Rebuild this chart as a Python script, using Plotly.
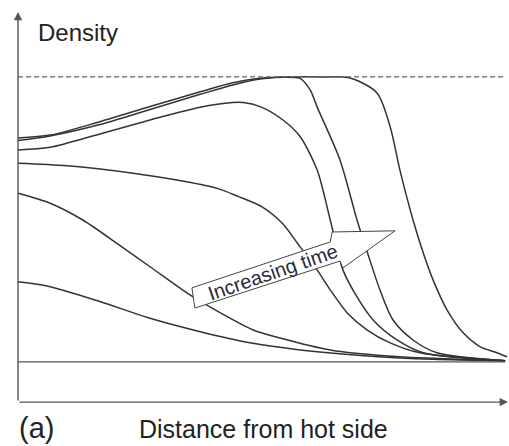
import plotly.graph_objects as go

# distance from hot side (0 = hot side, 1 = right end of the profiles)
# density normalised so that 1 = saturation level (dashed line)
dist_1 = [0.0, 0.066, 0.168, 0.271, 0.374, 0.476, 0.579, 0.717, 0.852, 1.0]
dens_1 = [0.281, 0.264, 0.212, 0.153, 0.106, 0.067, 0.042, 0.021, 0.009, 0.004]

dist_2 = [0.0, 0.066, 0.133, 0.203, 0.271, 0.353, 0.380, 0.483, 0.538, 0.641, 0.784, 1.0]
dens_2 = [0.592, 0.557, 0.498, 0.416, 0.334, 0.235, 0.207, 0.112, 0.084, 0.042, 0.018, 0.004]

dist_3 = [0.0, 0.101, 0.236, 0.343, 0.409, 0.450, 0.501, 0.544, 0.573, 0.614, 0.641,
          0.676, 0.717, 0.764, 0.825, 1.0]
dens_3 = [0.697, 0.688, 0.662, 0.633, 0.609, 0.582, 0.544, 0.484, 0.418, 0.323, 0.253,
          0.172, 0.112, 0.067, 0.032, 0.004]

dist_4 = [0.0, 0.066, 0.168, 0.271, 0.374, 0.441, 0.462, 0.497, 0.544, 0.579, 0.614,
          0.641, 0.667, 0.696, 0.729, 0.778, 0.832, 1.0]
dens_4 = [0.744, 0.753, 0.800, 0.849, 0.894, 0.910, 0.910, 0.896, 0.849, 0.791, 0.674,
          0.498, 0.323, 0.228, 0.147, 0.077, 0.032, 0.004]

dist_5 = [0.0, 0.066, 0.168, 0.271, 0.374, 0.441, 0.497, 0.544, 0.565, 0.579, 0.600,
          0.614, 0.661, 0.696, 0.719, 0.743, 0.770, 0.811, 0.860, 1.0]
dens_5 = [0.786, 0.796, 0.843, 0.896, 0.948, 0.980, 0.995, 1.000, 0.998, 0.995, 0.954,
          0.895, 0.709, 0.498, 0.375, 0.253, 0.147, 0.077, 0.032, 0.004]

dist_6 = [0.0, 0.066, 0.168, 0.271, 0.374, 0.441, 0.497, 0.544, 0.620, 0.682, 0.737,
          0.764, 0.784, 0.811, 0.832, 0.852, 0.881, 0.914, 0.949, 0.979, 1.004]
dens_6 = [0.777, 0.793, 0.833, 0.886, 0.939, 0.972, 0.993, 0.999, 1.000, 0.996, 0.944,
          0.825, 0.674, 0.498, 0.382, 0.288, 0.182, 0.102, 0.053, 0.035, 0.018]

profiles = [(dist_1, dens_1), (dist_2, dens_2), (dist_3, dens_3),
            (dist_4, dens_4), (dist_5, dens_5), (dist_6, dens_6)]

saturation = 1.0
initial = 0.0

FONT = "Arial, Liberation Sans, sans-serif"
LINE = "#333333"
AXIS = "#555555"

fig = go.Figure()

for x, y in profiles:
    fig.add_trace(go.Scatter(
        x=x, y=y, mode="lines",
        line=dict(color=LINE, width=1.5, shape="spline", smoothing=0.8),
        hoverinfo="skip", showlegend=False
    ))

# saturation level and initial level
fig.add_shape(type="line", x0=0, x1=1.0, y0=saturation, y1=saturation,
              line=dict(color="#666666", width=1.3, dash="5px,3px"))
fig.add_shape(type="line", x0=0, x1=1.0, y0=initial, y1=initial,
              line=dict(color=AXIS, width=1.3))

# hollow "increasing time" arrow
fig.add_shape(
    type="path",
    path="M 0.357,0.260 L 0.641,0.421 L 0.645,0.456 L 0.774,0.460 "
         "L 0.667,0.330 L 0.661,0.354 L 0.363,0.189 Z",
    fillcolor="white", line=dict(color="#444444", width=1), layer="above"
)

annotations = [
    # y axis arrow
    dict(x=0, y=1.228, ax=0, ay=-0.141, xref="x", yref="y", axref="x", ayref="y",
         text="", showarrow=True, arrowhead=2, arrowsize=1.2, arrowwidth=1.4,
         arrowcolor=AXIS),
    # x axis arrow
    dict(x=1.006, y=-0.141, ax=0, ay=-0.141, xref="x", yref="y", axref="x", ayref="y",
         text="", showarrow=True, arrowhead=2, arrowsize=1.2, arrowwidth=1.4,
         arrowcolor=AXIS),
    dict(x=0.037, y=1.155, xref="x", yref="y", text="Density", showarrow=False,
         xanchor="left", yanchor="middle", font=dict(family=FONT, size=24, color="#222")),
    dict(x=-0.002, y=-0.232, xref="x", yref="y", text="(a)", showarrow=False,
         xanchor="left", yanchor="middle", font=dict(family=FONT, size=29, color="#222")),
    dict(x=0.504, y=-0.235, xref="x", yref="y", text="Distance from hot side",
         showarrow=False, xanchor="center", yanchor="middle",
         font=dict(family=FONT, size=25, color="#222")),
    dict(x=0.524, y=0.316, xref="x", yref="y", text="Increasing time", showarrow=False,
         textangle=-19, xanchor="center", yanchor="middle",
         font=dict(family=FONT, size=20, color="#2a2a3a")),
]

fig.update_layout(
    width=509, height=446,
    margin=dict(l=0, r=0, t=0, b=0),
    paper_bgcolor="white", plot_bgcolor="white",
    xaxis=dict(range=[-0.037, 1.008], visible=False, fixedrange=True),
    yaxis=dict(range=[-0.295, 1.270], visible=False, fixedrange=True),
    annotations=annotations,
    showlegend=False
)

# page body has a default margin; remove it so the figure sits at the top-left corner
fig.write_html("out.html", config={"displayModeBar": False},
               post_script="document.body.style.margin='0';document.body.style.overflow='hidden';")
